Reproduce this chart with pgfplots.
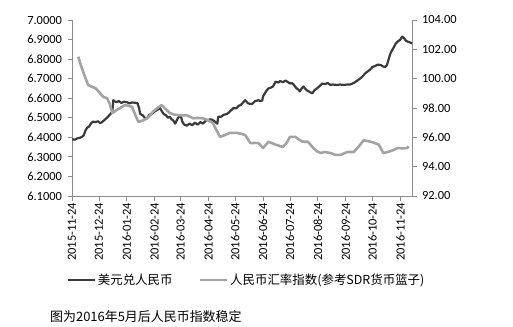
\documentclass[border=0pt]{standalone}
\usepackage{fontspec}
\setmainfont{Carlito}
\newfontfamily\cjk{Noto Sans CJK SC}
\usepackage{pgfplots}
\pgfplotsset{compat=1.18}
\definecolor{usd}{HTML}{3A3A3A}
\definecolor{cfets}{HTML}{A3A3A3}
\definecolor{axc}{HTML}{8C8C8C}
\begin{document}
\begin{tikzpicture}
\pgfplotsset{
  every axis/.append style={
    scale only axis, width=340bp, height=176bp,
    at={(0,0)}, anchor=south west,
    xmin=0, xmax=379,
    axis line style={axc, line width=0.8pt},
    tick style={axc, line width=0.8pt},
    tick align=outside, major tick length=4.5bp,
    /pgf/number format/assume math mode=true,
    ticklabel style={font=\fontsize{12.5}{14}\selectfont, text=black},
  }
}
\begin{axis}[
  axis y line*=left, axis x line*=bottom,
  ymin=6.1, ymax=7.0, ytick={6.1,6.2,...,7.05},
  yticklabel style={/pgf/number format/.cd, fixed, fixed zerofill, precision=4},
  yticklabel shift=2bp,
  xtick={0,30,61,92,121,152,182,213,243,274,305,335,366},
  xticklabels={2015-11-24,2015-12-24,2016-01-24,2016-02-24,2016-03-24,2016-04-24,2016-05-24,2016-06-24,2016-07-24,2016-08-24,2016-09-24,2016-10-24,2016-11-24},
  xticklabel style={rotate=90, anchor=east, inner sep=1bp},
  xticklabel shift=1bp,
  legend columns=2,
  legend style={draw=none, fill=none, at={(-0.025,-0.477)}, anchor=west,
    font=\cjk\fontsize{12.5}{14}\selectfont,
    /tikz/every even column/.append style={column sep=24bp}},
  legend image code/.code={\draw[#1] (0bp,0bp) -- (27bp,0bp);},
  legend cell align=left,
]
\addplot[usd, line width=2.2pt, line join=round] coordinates {
(0,6.390)(3,6.388)(6,6.395)(9,6.398)(11,6.402)(13,6.410)(15,6.435)(17,6.450)(19,6.455)(21,6.470)(23,6.480)(26,6.478)(29,6.482)(31,6.474)(33,6.476)(36,6.488)(39,6.500)(42,6.515)(45,6.530)(46,6.590)(48,6.583)(50,6.580)(52,6.586)(55,6.576)(58,6.582)(61,6.580)(64,6.574)(67,6.578)(70,6.577)(73,6.575)(75,6.545)(76,6.520)(79,6.512)(82,6.495)(84,6.500)(86,6.515)(89,6.520)(92,6.532)(95,6.540)(98,6.550)(100,6.535)(102,6.520)(105,6.512)(107,6.500)(109,6.505)(111,6.492)(113,6.485)(115,6.470)(118,6.498)(121,6.515)(123,6.480)(125,6.465)(128,6.460)(131,6.470)(134,6.462)(137,6.475)(140,6.465)(143,6.478)(146,6.470)(149,6.485)(152,6.490)(155,6.492)(157,6.488)(160,6.478)(162,6.470)(163,6.505)(166,6.505)(169,6.515)(173,6.520)(176,6.532)(180,6.550)(183,6.548)(186,6.562)(188,6.565)(191,6.580)(193,6.590)(196,6.575)(199,6.570)(201,6.572)(204,6.585)(208,6.590)(210,6.585)(212,6.588)(213,6.610)(215,6.625)(217,6.640)(219,6.650)(222,6.655)(224,6.660)(227,6.685)(230,6.680)(232,6.688)(235,6.682)(238,6.690)(241,6.682)(243,6.675)(245,6.678)(247,6.670)(250,6.652)(252,6.645)(254,6.635)(256,6.650)(258,6.660)(260,6.648)(262,6.640)(265,6.632)(268,6.625)(270,6.640)(273,6.650)(276,6.662)(279,6.675)(282,6.672)(285,6.678)(288,6.668)(291,6.670)(295,6.668)(299,6.670)(303,6.668)(307,6.670)(310,6.670)(314,6.678)(318,6.690)(321,6.700)(324,6.712)(327,6.728)(329,6.735)(332,6.745)(335,6.760)(338,6.765)(341,6.772)(344,6.770)(347,6.762)(349,6.760)(351,6.768)(352,6.785)(355,6.830)(358,6.855)(361,6.880)(363,6.890)(366,6.900)(368,6.915)(370,6.908)(372,6.895)(374,6.890)(377,6.885)(379,6.880)
};
\addlegendentry{美元兑人民币}
\addlegendimage{cfets, line width=2.6pt}
\addlegendentry{人民币汇率指数(参考SDR货币篮子)}
\end{axis}
\begin{axis}[
  axis y line*=right, axis x line=none,
  ymin=92, ymax=104, ytick={92,94,...,104},
  yticklabel style={/pgf/number format/.cd, fixed, fixed zerofill, precision=2},
  yticklabel shift=2bp,
]
\addplot[cfets, line width=2.6pt, line join=round] coordinates {
(7,101.50)(10,100.90)(14,100.20)(18,99.57)(22,99.45)(26,99.36)(30,99.10)(35,98.75)(39,98.68)(42,98.30)(45,97.66)(50,97.87)(55,98.05)(59,98.20)(63,98.15)(67,98.07)(70,97.60)(74,97.05)(79,97.15)(84,97.30)(87,97.50)(90,97.73)(95,98.00)(100,98.20)(104,97.95)(109,97.66)(114,97.55)(121,97.50)(128,97.50)(135,97.30)(140,97.32)(146,97.30)(152,97.15)(157,96.98)(161,96.50)(165,96.03)(170,96.15)(176,96.30)(184,96.30)(188,96.25)(193,96.16)(199,95.60)(204,95.62)(208,95.60)(213,95.27)(219,95.70)(223,95.60)(227,95.50)(231,95.42)(235,95.35)(239,95.60)(243,96.03)(249,96.03)(253,95.85)(257,95.70)(263,95.70)(269,95.27)(273,95.05)(277,94.93)(282,95.00)(288,94.93)(294,94.80)(299,94.80)(303,94.90)(307,95.00)(314,95.00)(320,95.40)(325,95.80)(329,95.75)(333,95.70)(338,95.60)(342,95.50)(347,94.93)(352,95.00)(357,95.10)(363,95.27)(368,95.25)(374,95.27)(375,95.40)
};
\end{axis}
\node[anchor=west, inner sep=0pt, font=\cjk\fontsize{13}{15}\selectfont] at (-22bp,-121bp) {图为2016年5月后人民币指数稳定};
\pgfresetboundingbox
\path[use as bounding box] (-72bp,-131bp) rectangle (441bp,196bp);
\end{tikzpicture}
\end{document}
